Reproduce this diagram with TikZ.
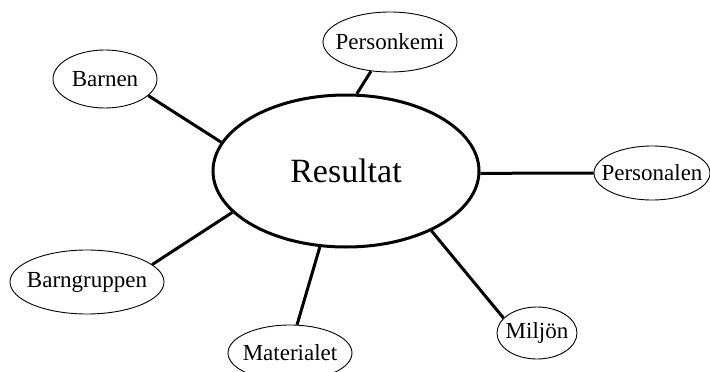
\documentclass[tikz,border=0pt]{standalone}
\usepackage{fontspec}
\setmainfont{Liberation Serif}
\usetikzlibrary{shapes.geometric}

\begin{document}
\begin{tikzpicture}[x=1pt, y=-1pt,
  mainbubble/.style={ellipse, draw, line width=3pt, inner sep=0pt,
    minimum width=266pt, minimum height=152pt, font=\fontsize{34}{40}\selectfont},
  bubble/.style={ellipse, draw, line width=0.9pt, inner xsep=-25pt, inner ysep=-8pt,
    fill=white, font=\fontsize{23}{27}\selectfont},
  spoke/.style={line width=3pt}]
  \useasboundingbox (0,0) rectangle (710,372);

  % center
  \node[mainbubble] (res) at (346,171) {Resultat};

  % surrounding factors
  \node[bubble, minimum width=134pt, minimum height=60pt] (personkemi) at (390,42) {Personkemi};
  \node[bubble, minimum width=104pt, minimum height=58pt] (barnen) at (105,79) {Barnen};
  \node[bubble, minimum width=116pt, minimum height=54pt] (personalen) at (652,173) {Personalen};
  \node[bubble, minimum width=80pt, minimum height=52pt] (miljon) at (537,333) {Milj\"on};
  \node[bubble, minimum width=124pt, minimum height=56pt] (materialet) at (290,353) {Materialet};
  \node[bubble, minimum width=154pt, minimum height=64pt] (barngruppen) at (87,282) {Barngruppen};

  % spokes
  \draw[spoke] (res.167) -- (barnen.-21);
  \draw[spoke] (res.82) -- (personkemi.237);
  \draw[spoke] (res.-1) -- (personalen.180);
  \draw[spoke] (res.-35) -- (miljon.156);
  \draw[spoke] (res.-109) -- (materialet.76);
  \draw[spoke] (res.200) -- (barngruppen.15);
\end{tikzpicture}
\end{document}
